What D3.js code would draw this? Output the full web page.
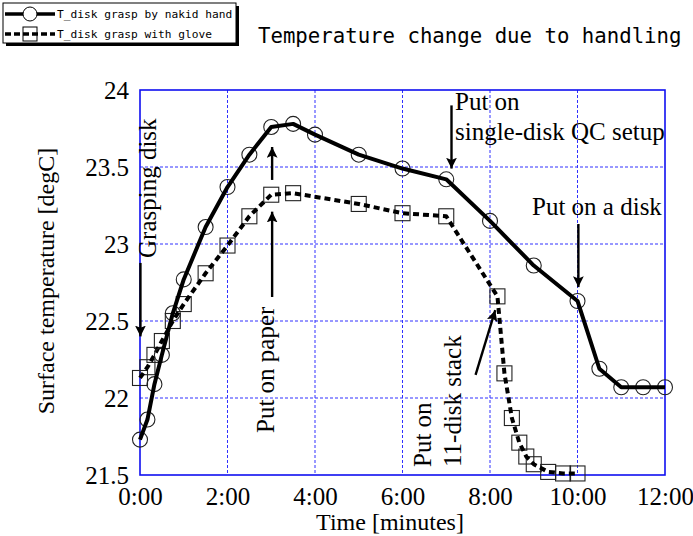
<!DOCTYPE html>
<html>
<head>
<meta charset="utf-8">
<script src="https://cdn.jsdelivr.net/npm/d3@7"></script>
<style>
  html, body { margin: 0; padding: 0; background: #fff; }
  svg { display: block; }
</style>
</head>
<body>
<svg id="chart" width="693" height="536"></svg>
<script>
// Elapsed time in minutes and disk surface temperature in degC
const nakedTimes  = [0, 0.17, 0.33, 0.5, 0.75, 1, 1.5, 2, 2.5, 3, 3.5, 4, 5, 6, 7, 8, 9, 10, 10.5, 11, 11.5, 12];
const nakedTemps  = [21.73, 21.86, 22.09, 22.28, 22.55, 22.77, 23.11, 23.37, 23.58, 23.76, 23.78, 23.71,
                     23.58, 23.49, 23.42, 23.15, 22.86, 22.63, 22.19, 22.07, 22.07, 22.07];
const gloveTimes  = [0, 0.17, 0.33, 0.5, 0.75, 1, 1.5, 2, 2.5, 3, 3.5, 5, 6, 7,
                     8.17, 8.33, 8.5, 8.67, 8.83, 9, 9.33, 9.67, 10];
const gloveTemps  = [22.13, 22.2, 22.28, 22.37, 22.5, 22.61, 22.81, 22.99, 23.18, 23.32, 23.33, 23.26, 23.2, 23.18,
                     22.66, 22.16, 21.87, 21.71, 21.62, 21.57, 21.52, 21.51, 21.51];
const timeTicks   = [0, 2, 4, 6, 8, 10, 12];
const timeLabels  = ["0:00", "2:00", "4:00", "6:00", "8:00", "10:00", "12:00"];
const tempTicks   = [21.5, 22, 22.5, 23, 23.5, 24];
const tempLabels  = ["21.5", "22", "22.5", "23", "23.5", "24"];
const seriesNames = ["T_disk grasp by nakid hand", "T_disk grasp with glove"];
const titleText   = "Temperature change due to handling";

const svg = d3.select("#chart");
const plotL = 140, plotR = 665, plotT = 90, plotB = 475;
const x = d3.scaleLinear().domain([0, 12]).range([plotL, plotR]);
const y = d3.scaleLinear().domain([21.5, 24]).range([plotB, plotT]);

const serif = "'Liberation Serif', 'Times New Roman', serif";
const mono = "'DejaVu Sans Mono', 'Liberation Mono', monospace";

// arrowhead marker
const defs = svg.append("defs");
defs.append("marker")
  .attr("id", "arrow")
  .attr("viewBox", "0 0 10 10")
  .attr("refX", 10).attr("refY", 5)
  .attr("markerWidth", 4.5).attr("markerHeight", 4.5)
  .attr("markerUnits", "strokeWidth")
  .attr("orient", "auto")
  .append("path").attr("d", "M0,0 L10,5 L0,10 L2,5 Z").attr("fill", "#000");

// grid
const grid = svg.append("g").attr("class", "grid");
grid.selectAll("line.v").data(timeTicks.slice(1, -1)).join("line")
  .attr("x1", d => x(d)).attr("x2", d => x(d))
  .attr("y1", plotT).attr("y2", plotB)
  .attr("stroke", "#3030ff").attr("stroke-width", 1).attr("stroke-dasharray", "3,2");
grid.selectAll("line.h").data(tempTicks.slice(1, -1)).join("line")
  .attr("x1", plotL).attr("x2", plotR)
  .attr("y1", d => y(d)).attr("y2", d => y(d))
  .attr("stroke", "#3030ff").attr("stroke-width", 1).attr("stroke-dasharray", "3,2");

// frame
svg.append("rect")
  .attr("x", plotL).attr("y", plotT)
  .attr("width", plotR - plotL).attr("height", plotB - plotT)
  .attr("fill", "none").attr("stroke", "#1010f0").attr("stroke-width", 1.6);

// axes
const xAxis = d3.axisBottom(x).tickValues(timeTicks)
  .tickFormat((d, i) => timeLabels[i]).tickSize(0).tickPadding(0);
const gx = svg.append("g").attr("transform", `translate(0,${plotB})`).call(xAxis);
gx.select(".domain").remove();
gx.selectAll("text").attr("font-family", serif).attr("font-size", 25)
  .attr("fill", "#000").attr("dy", null).attr("y", 30);

const yAxis = d3.axisLeft(y).tickValues(tempTicks)
  .tickFormat((d, i) => tempLabels[i]).tickSize(0).tickPadding(11);
const gy = svg.append("g").attr("transform", `translate(${plotL},0)`).call(yAxis);
gy.select(".domain").remove();
gy.selectAll("text").attr("font-family", serif).attr("font-size", 25)
  .attr("fill", "#000").attr("dy", "0.32em");

// axis titles
svg.append("text").attr("x", 390).attr("y", 530)
  .attr("text-anchor", "middle").attr("font-family", serif).attr("font-size", 24)
  .text("Time [minutes]");
svg.append("text")
  .attr("transform", `translate(54,${281}) rotate(-90)`)
  .attr("text-anchor", "middle").attr("font-family", serif).attr("font-size", 24)
  .text("Surface temperature [degC]");

// series
const line = d3.line().x(d => x(d[0])).y(d => y(d[1]));
const naked = nakedTimes.map((t, i) => [t, nakedTemps[i]]);
const glove = gloveTimes.map((t, i) => [t, gloveTemps[i]]);

svg.append("g").selectAll("rect").data(glove).join("rect")
  .attr("x", d => x(d[0]) - 7.5).attr("y", d => y(d[1]) - 7.5)
  .attr("width", 15).attr("height", 15)
  .attr("fill", "none").attr("stroke", "#222").attr("stroke-width", 1.1);
svg.append("path").datum(glove).attr("d", line)
  .attr("fill", "none").attr("stroke", "#000").attr("stroke-width", 4)
  .attr("stroke-dasharray", "6,4").attr("stroke-linejoin", "round");

svg.append("g").selectAll("circle").data(naked).join("circle")
  .attr("cx", d => x(d[0])).attr("cy", d => y(d[1])).attr("r", 7.5)
  .attr("fill", "none").attr("stroke", "#222").attr("stroke-width", 1.1);
svg.append("path").datum(naked).attr("d", line)
  .attr("fill", "none").attr("stroke", "#000").attr("stroke-width", 4)
  .attr("stroke-linejoin", "round");

// event arrows, in data coordinates [t0, T0, t1, T1]
const arrows = [
  [0.01, 22.877, 0.01, 22.40],
  [3.02, 22.656, 3.02, 23.21],
  [3.02, 23.416, 3.02, 23.63],
  [7.12, 23.90, 7.12, 23.49],
  [10.02, 23.13, 10.02, 22.72],
  [7.67, 22.15, 8.12, 22.57]
];
svg.append("g").selectAll("line").data(arrows).join("line")
  .attr("x1", d => x(d[0])).attr("y1", d => y(d[1]))
  .attr("x2", d => x(d[2])).attr("y2", d => y(d[3]))
  .attr("stroke", "#000").attr("stroke-width", 2.4)
  .attr("marker-end", "url(#arrow)");

// event labels
const note = (tx, ty, rot, txt) => svg.append("text")
  .attr("transform", `translate(${tx},${ty})` + (rot ? " rotate(-90)" : ""))
  .attr("font-family", serif).attr("font-size", 25).attr("fill", "#000").text(txt);
note(156, 258, true, "Grasping disk");
note(274, 433, true, "Put on paper");
note(431, 467, true, "Put on");
note(461, 467, true, "11-disk stack");
note(455, 110, false, "Put on");
note(455, 140, false, "single-disk QC setup");
note(532, 215, false, "Put on a disk");

// title
svg.append("text").attr("x", 258).attr("y", 43)
  .attr("font-family", mono).attr("font-size", 20.7)
  .text(titleText);

// legend
const lg = svg.append("g");
lg.append("rect").attr("x", 6).attr("y", 6).attr("width", 233).attr("height", 40).attr("fill", "#000");
lg.append("rect").attr("x", 3).attr("y", 3).attr("width", 233).attr("height", 40)
  .attr("fill", "#fff").attr("stroke", "#000").attr("stroke-width", 1);
lg.append("line").attr("x1", 5).attr("x2", 55).attr("y1", 14).attr("y2", 14)
  .attr("stroke", "#000").attr("stroke-width", 3.5);
lg.append("circle").attr("cx", 30).attr("cy", 14).attr("r", 7)
  .attr("fill", "#fff").attr("stroke", "#000").attr("stroke-width", 1);
lg.append("line").attr("x1", 5).attr("x2", 55).attr("y1", 34).attr("y2", 34)
  .attr("stroke", "#000").attr("stroke-width", 3.5).attr("stroke-dasharray", "6,3");
lg.append("rect").attr("x", 23).attr("y", 27).attr("width", 14).attr("height", 14)
  .attr("fill", "none").attr("stroke", "#000").attr("stroke-width", 1);
lg.selectAll("text").data(seriesNames).join("text")
  .attr("x", 57).attr("y", (d, i) => 18 + i * 20)
  .attr("font-family", mono).attr("font-size", 11.2)
  .text(d => d);
</script>
</body>
</html>
